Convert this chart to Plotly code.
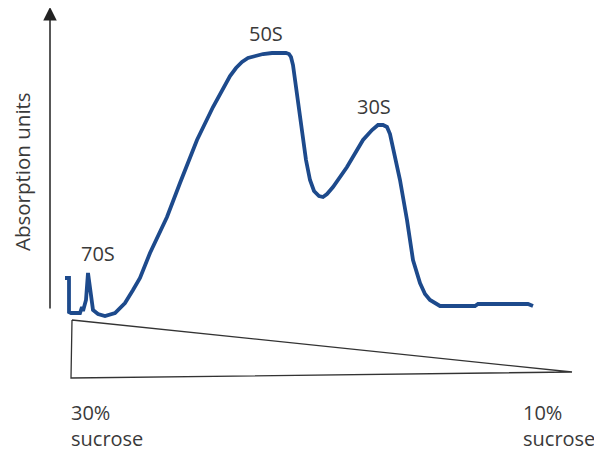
import plotly.graph_objects as go

# Gradient position (arbitrary units along the tube) and absorbance (arbitrary units)
position = [65, 69, 69, 71, 80, 82, 83, 86, 88, 90, 93, 98, 105, 115, 125, 133, 140, 150, 167,
            180, 197, 213, 222, 230, 236, 242, 248, 255, 263, 272, 280, 286, 289, 291, 293, 295,
            297, 300, 303, 306, 310, 314, 319, 323, 327, 333, 347, 363, 372, 378, 383, 387, 390,
            393, 400, 407, 413, 420, 425, 430, 440, 460, 475, 478, 500, 528, 533]
absorbance = [42, 42, 8, 7, 7, 13, 9, 20, 47, 30, 10, 6, 4, 7, 17, 30, 42, 67, 103,
              137, 180, 213, 230, 244, 252, 258, 262, 264, 266, 267, 267, 267, 266, 263, 255, 240,
              223, 205, 180, 160, 140, 129, 124, 123, 126, 133, 153, 180, 190, 195, 195, 193, 186,
              173, 140, 100, 60, 37, 26, 20, 14, 14, 14, 16, 16, 16, 14]

peak_labels = ["70S", "50S", "30S"]
peak_pos = [98, 266, 374]
peak_abs = [67, 287, 214]

gradient_labels = ["30%<br>sucrose", "10%<br>sucrose"]

TEXT = "#3a3a3a"
FONT = "Open Sans"

fig = go.Figure()

# gradient wedge
fig.add_trace(go.Scatter(
    x=[72, 572, 71, 72], y=[0, -52, -58, 0],
    mode="lines", line=dict(color="#333333", width=1.3),
    hoverinfo="skip", showlegend=False))

# absorbance profile
fig.add_trace(go.Scatter(
    x=position, y=absorbance, mode="lines",
    line=dict(color="#1d4a8c", width=3.8, shape="linear"),
    showlegend=False))

for lab, px, py in zip(peak_labels, peak_pos, peak_abs):
    fig.add_annotation(x=px, y=py, text=lab, showarrow=False,
                       font=dict(family=FONT, size=20, color=TEXT),
                       xanchor="center", yanchor="middle")

fig.add_annotation(x=69, y=-105, text=gradient_labels[0], showarrow=False,
                   align="left", xanchor="left", yanchor="middle",
                   font=dict(family=FONT, size=20, color=TEXT))
fig.add_annotation(x=521, y=-105, text=gradient_labels[1], showarrow=False,
                   align="left", xanchor="left", yanchor="middle",
                   font=dict(family=FONT, size=20, color=TEXT))

# y axis arrow
fig.add_annotation(x=50, y=313, ax=50, ay=10, axref="x", ayref="y",
                   text="", showarrow=True, arrowhead=2, arrowsize=1.8,
                   arrowwidth=1.5, arrowcolor="#222222")
fig.add_annotation(x=22, y=148, text="Absorption units", textangle=-90,
                   showarrow=False, borderpad=0,
                   font=dict(family=FONT, size=20.5, color=TEXT),
                   xanchor="center", yanchor="middle")

# page body has an 8px default margin: shrink the figure and start the ranges at 8
fig.update_layout(
    width=594, height=443,
    margin=dict(l=0, r=0, t=0, b=0),
    paper_bgcolor="white", plot_bgcolor="white",
    xaxis=dict(range=[8, 602], visible=False, fixedrange=True),
    yaxis=dict(range=[-131, 312], visible=False, fixedrange=True),
)

fig.write_html("out.html")
